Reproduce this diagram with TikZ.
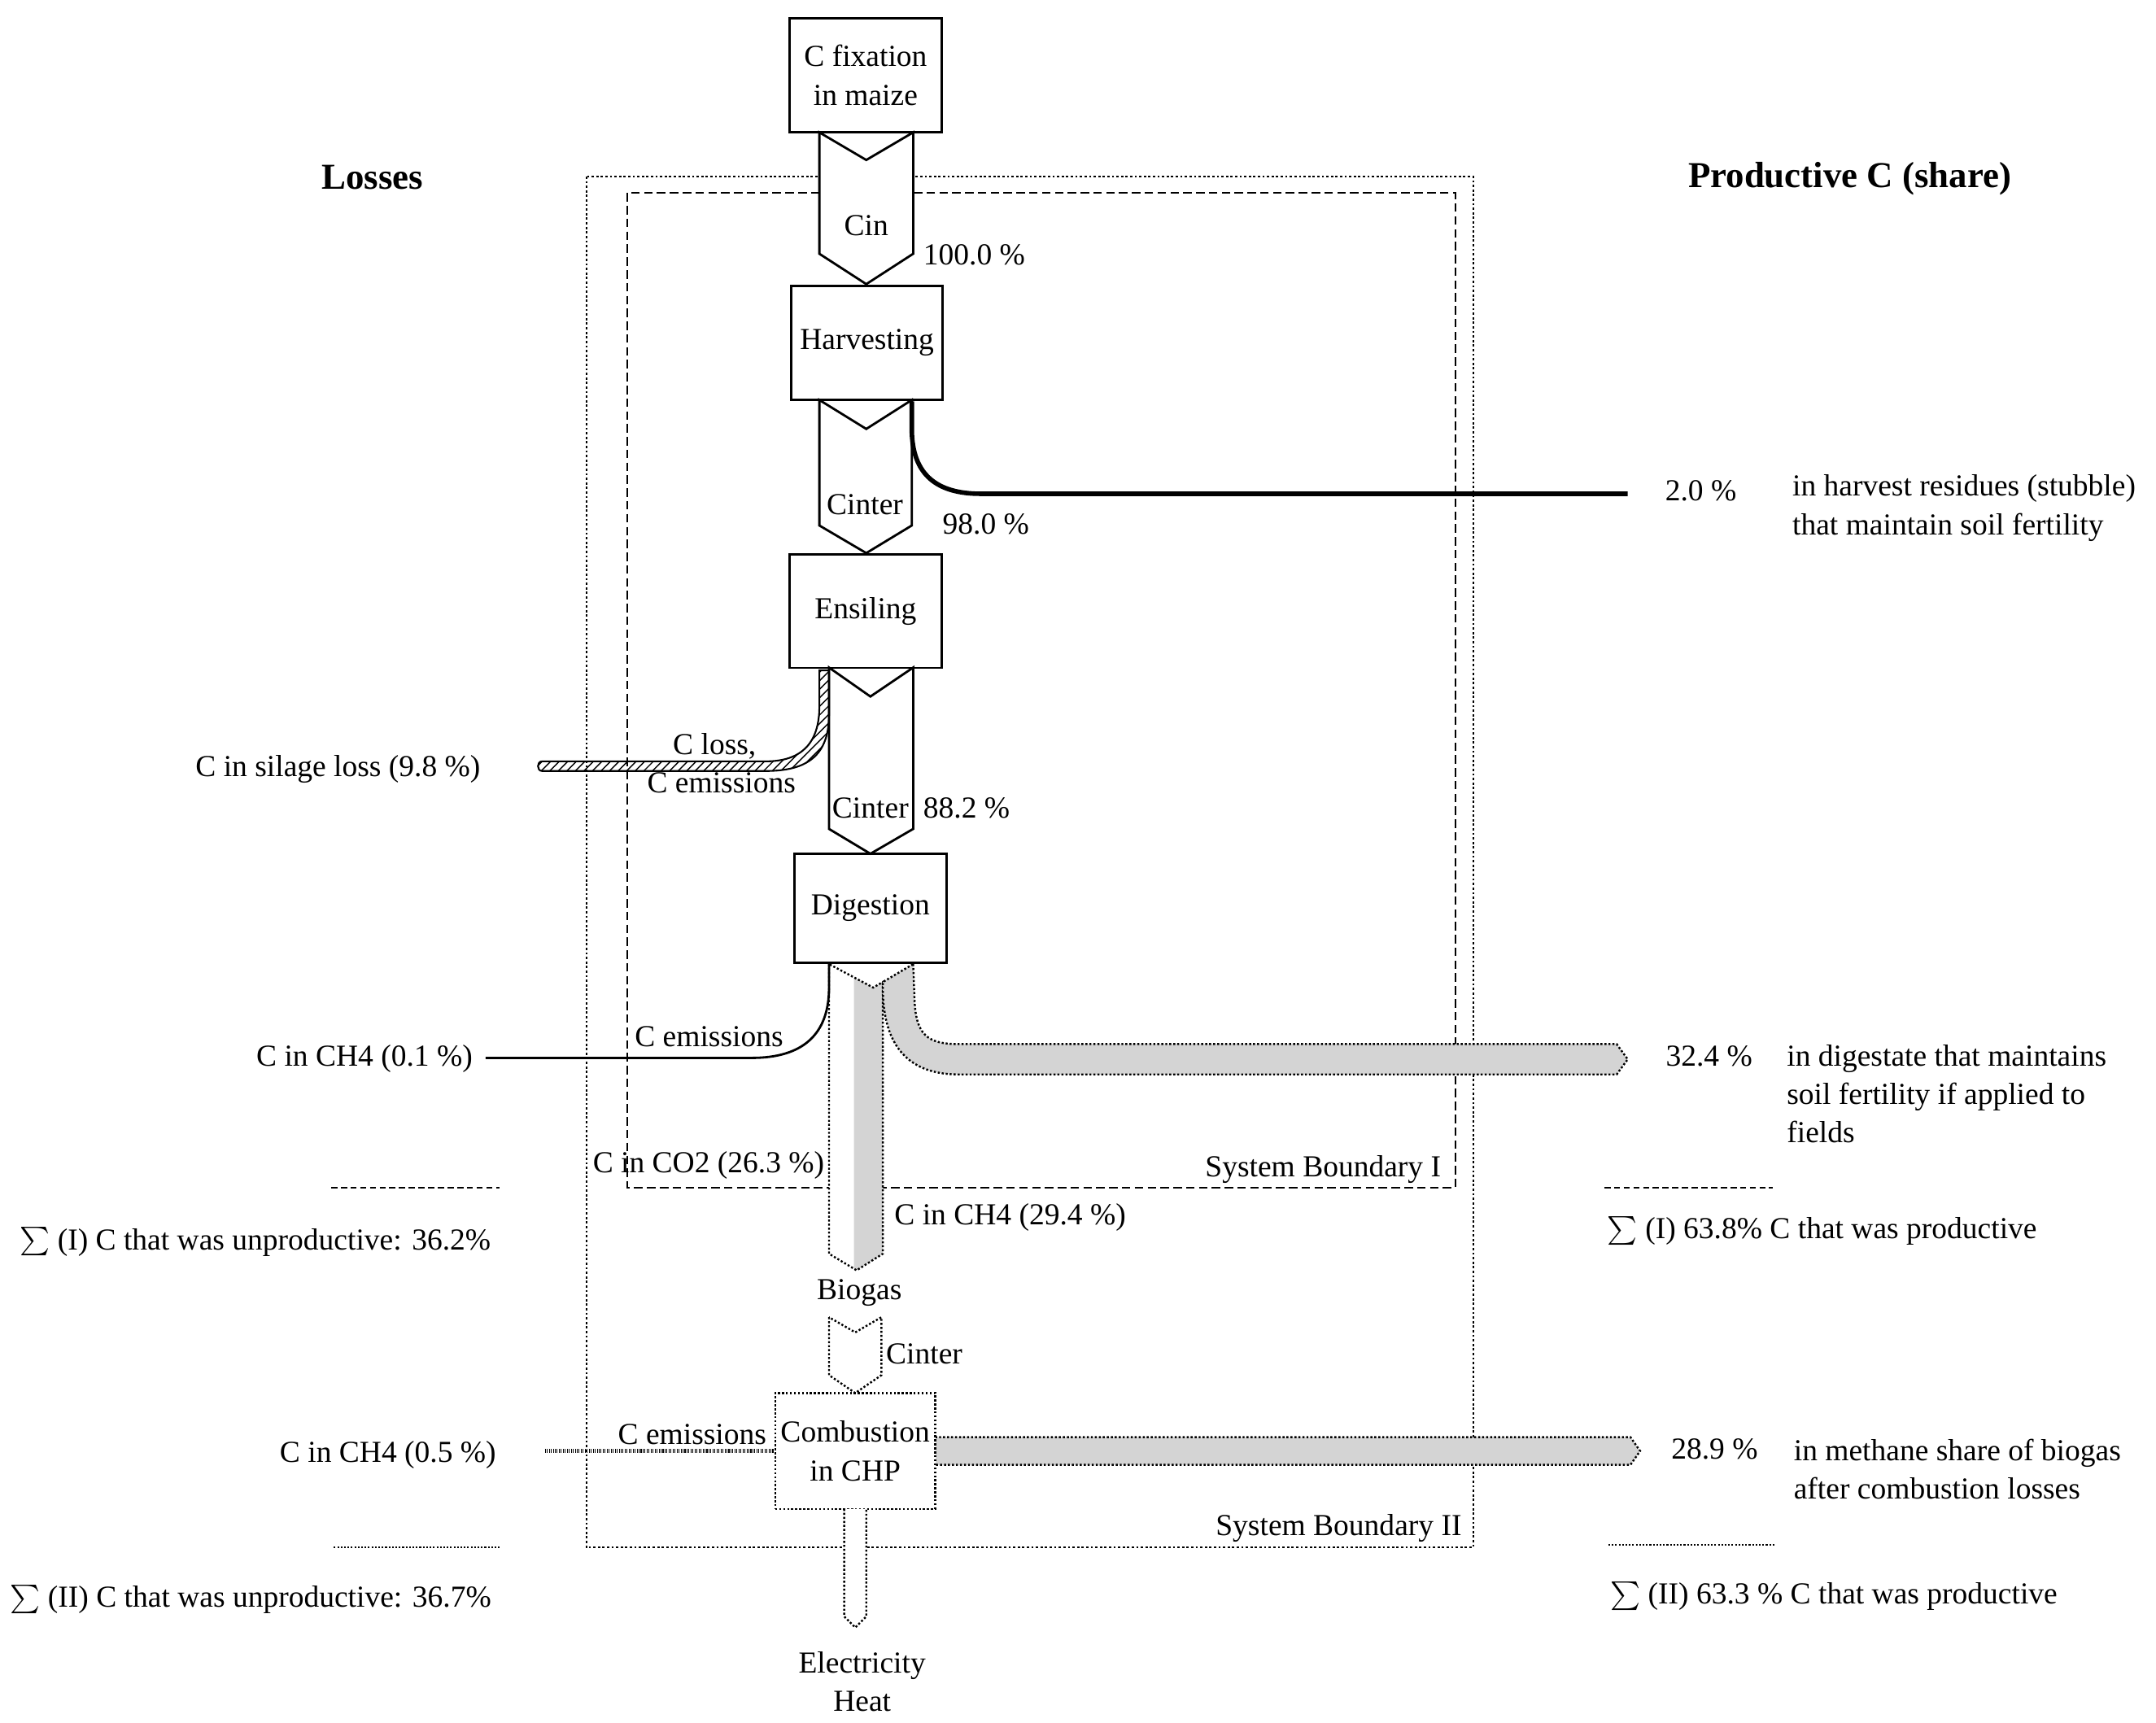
\documentclass[tikz,border=0pt]{standalone}
\usepackage{fontspec}
\setmainfont{Liberation Serif}
\usetikzlibrary{patterns}

\begin{document}
\begin{tikzpicture}[line cap=butt,line join=miter,x=0.017cm,y=-0.017cm,
    every node/.style={font=\fontsize{10.7}{13.5}\selectfont},
    box/.style={draw,line width=0.8pt,fill=white,minimum width=1.87cm,minimum height=1.40cm,align=center,inner sep=1pt},
    lbl/.style={inner sep=0pt},
    ttl/.style={inner sep=0pt,font=\fontsize{12.8}{14}\selectfont\bfseries},
    flow/.style={draw,line width=0.8pt,fill=white},
    dflow/.style={draw,line width=0.7pt,dash pattern=on 0.7pt off 0.7pt},
    gband/.style={fill=black!17}]
  \useasboundingbox (0,0) rectangle (1563,1249);
  % system boundaries
  \draw [line width=0.6pt,dash pattern=on 0.8pt off 0.8pt] (425,128) rectangle (1068,1122);
  \draw [line width=0.6pt,dash pattern=on 3pt off 1.5pt] (455,140) rectangle (1055,861);
  \node[lbl,anchor=base east] (sb1) at (1045,853) {System Boundary I};
  \node[lbl,anchor=base east] (sb2) at (1060,1113) {System Boundary II};
  % titles
  \node[ttl,anchor=base] (losses) at (270,137) {Losses};
  \node[ttl,anchor=base] (prod) at (1341,136) {Productive C (share)};
  % boxes
  \node[box] (fix) at (627.5,54.5) {C fixation\\in maize};
  \node[box] (harv) at (628.5,248.5) {Harvesting};
  \node[box] (ens) at (627.5,443) {Ensiling};
  \node[box,minimum height=1.343cm] (dig) at (631,658.5) {Digestion};
  % flows between the boxes
  \draw[flow] (594,96) -- (594,184) -- (628,206) -- (662,184) -- (662,96) -- (628,116) -- cycle;
  \draw[flow] (594,290) -- (594,381) -- (628,401) -- (661,381) -- (661,290) -- (628,311) -- cycle;
  \draw[flow] (601,484) -- (601,601) -- (631,619) -- (662,601) -- (662,484) -- (631,505) -- cycle;
  \node[lbl,anchor=base] (cin) at (628,171) {Cin};
  \node[lbl,anchor=base west] (p100) at (669,192) {100.0 \%};
  \node[lbl,anchor=base] (cint1) at (627,373) {Cinter};
  \node[lbl,anchor=base west] (p98) at (683,387) {98.0 \%};
  \node[lbl,anchor=base] (cint2) at (631,593) {Cinter};
  \node[lbl,anchor=base west] (p88) at (669,593) {88.2 \%};
  % harvest residues
  \coordinate (res) at (1180,358);
  \draw[line width=1.6pt] (661,291) -- (661,311) .. controls (661,345) and (680,358) .. (711,358) -- (res);
  \node[lbl,anchor=base] (p2) at (1233,363) {2.0 \%};
  \node[lbl,anchor=north west,align=left] (stub) at (1299,344) {in harvest residues (stubble)\\that maintain soil fertility};
  % silage loss
  \node[lbl,anchor=base] (silage) at (245,563) {C in silage loss (9.8 \%)};
  \draw[line width=0.6pt,pattern=north east lines] (594,486) -- (594,512) .. controls (594,540) and (580,552) .. (555,552) -- (393,552)
    .. controls (389,552) and (389,559) .. (393,559) -- (555,559) .. controls (585,559) and (601,548) .. (601,518) -- (601,486) -- cycle;
  \node[lbl,anchor=base] (closs) at (518,547) {C loss,};
  \node[lbl,anchor=base] (cem1) at (523,575) {C emissions};
  % digestion outputs
  \fill[white] (601,699) -- (601,909) -- (621,921) -- (640,909) -- (640,712) -- (633,716) -- cycle;
  \fill[gband] (619,708.6) -- (633,716) -- (640,712) -- (640,909) -- (621,921) -- (619,919.8) -- cycle;
  \draw[dflow] (601,699) -- (601,909) -- (621,921) -- (640,909) -- (640,712) -- (633,716) -- cycle;
  \draw[dflow,gband] (662,699) -- (663,725) .. controls (664,750) and (672,757) .. (695,757) -- (1172,757) -- (1180,768)
    -- (1172,779) -- (695,779) .. controls (660,779) and (640,760) .. (640,716) -- (640,712) -- cycle;
  \node[lbl,anchor=base east] (ch4a) at (343,773) {C in CH4 (0.1 \%)};
  \coordinate (e2) at (352,767);
  \draw[line width=0.8pt] (e2) -- (545,767) .. controls (582,767) and (601,750) .. (601,716) -- (601,698);
  \node[lbl,anchor=base] (cem2) at (514,759) {C emissions};
  \node[lbl,anchor=base east] (co2) at (598,850) {C in CO2 (26.3 \%)};
  \node[lbl,anchor=base west] (ch4b) at (648,888) {C in CH4 (29.4 \%)};
  \node[lbl,anchor=base] (p324) at (1239,773) {32.4 \%};
  \node[lbl,anchor=north west,align=left] (dgst) at (1295,757) {in digestate that maintains\\soil fertility if applied to\\fields};
  \node[lbl,anchor=base] (biogas) at (623,942) {Biogas};
  % combustion
  \draw[dflow,fill=white] (601,955) -- (601,997) -- (620,1010) -- (639,997) -- (639,955) -- (620,966) -- cycle;
  \node[lbl,anchor=base west] (cint3) at (642,989) {Cinter};
  \draw[dflow,gband] (675,1042) -- (1182,1042) -- (1189,1052) -- (1182,1062) -- (675,1062) -- cycle;
  \node[box,dflow,fill=white,minimum width=1.972cm,minimum height=1.428cm] (chp) at (620,1052) {Combustion\\in CHP};
  \coordinate (e3) at (395,1052);
  \draw[line width=1.3pt,dash pattern=on 0.3pt off 0.4pt] (e3) -- (chp.west);
  \node[lbl,anchor=base east] (cem3) at (556,1047) {C emissions};
  \node[lbl,anchor=base east] (ch4c) at (360,1060) {C in CH4 (0.5 \%)};
  \node[lbl,anchor=base] (p289) at (1243,1058) {28.9 \%};
  \node[lbl,anchor=north west,align=left] (meth) at (1300,1043) {in methane share of biogas\\after combustion losses};
  \draw[dflow,fill=white] (612,1094) -- (612,1172) -- (620,1180) -- (628,1172) -- (628,1094);
  \node[lbl,anchor=north,align=center] (elec) at (625,1197) {Electricity\\Heat};
  % sums
  \draw[line width=0.6pt,dash pattern=on 2.2pt off 1.2pt] (240,861) -- (362,861);
  \draw[line width=0.6pt,dash pattern=on 2.2pt off 1.2pt] (1163,861) -- (1285,861);
  \draw[line width=0.6pt,dash pattern=on 0.6pt off 0.6pt] (242,1122) -- (362,1122);
  \draw[line width=0.6pt,dash pattern=on 0.6pt off 0.6pt] (1166,1120) -- (1287,1120);
  \node[lbl,anchor=base west] (sum1l) at (14,906) {$\sum$ (I) C that was unproductive: 36.2\%};
  \node[lbl,anchor=base west] (sum2l) at (7,1165) {$\sum$ (II) C that was unproductive: 36.7\%};
  \node[lbl,anchor=base west] (sum1r) at (1165,898) {$\sum$ (I) 63.8\% C that was productive};
  \node[lbl,anchor=base west] (sum2r) at (1167,1163) {$\sum$ (II) 63.3 \% C that was productive};
\end{tikzpicture}
\end{document}
